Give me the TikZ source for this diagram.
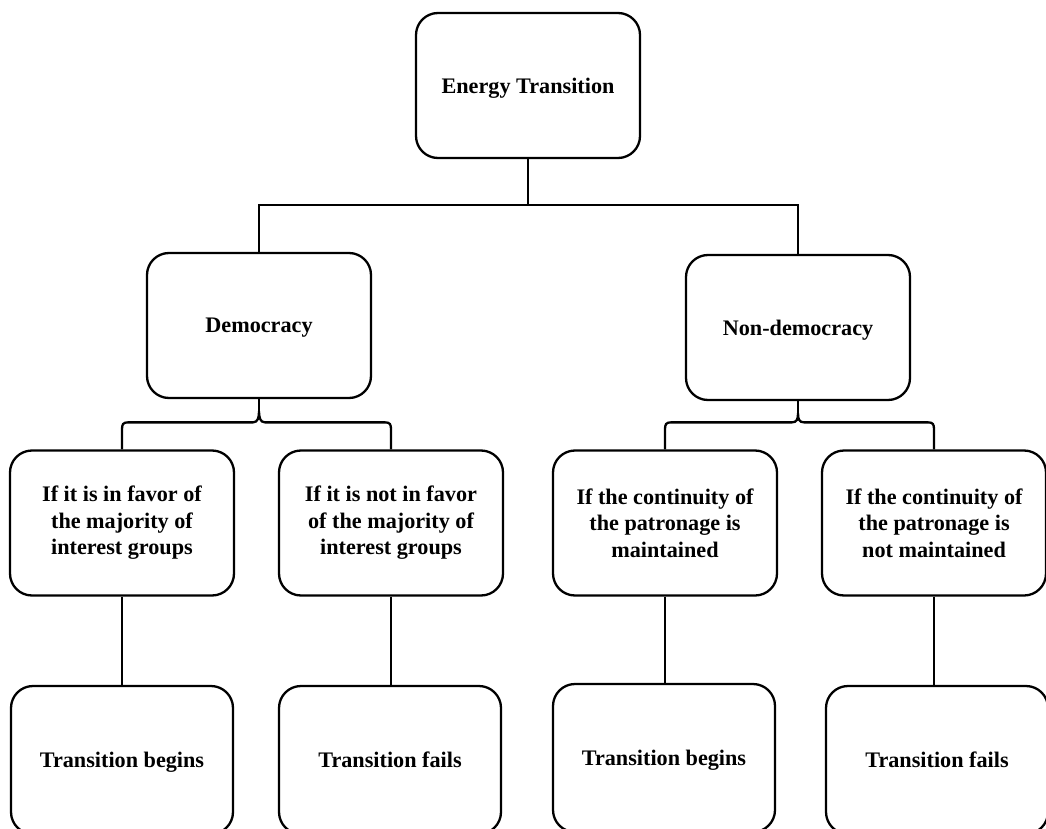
\documentclass[tikz,border=0pt]{standalone}
\usepackage{fontspec}
\setmainfont{Liberation Serif}
\usetikzlibrary{calc}
\tikzset{
  box/.style={draw, line width=2.3pt, rounded corners=22pt, minimum width=224pt,
    minimum height=145pt, inner sep=0pt, align=center,
    font=\fontsize{22.2}{26.5}\selectfont\bfseries},
  onebox/.style={box, text depth=0pt},
  endbox/.style={onebox, minimum width=222pt, minimum height=148pt},
  link/.style={line width=2.3pt}
}
\newcommand\bracelink[3]{%
  \draw[link] (#1.north) -- ++(0,-20) .. controls +(0,-5) and +(-5,0) .. ++(6,-7)
    -- ($(#2.south |- #1.north)+(-6,-27)$) .. controls +(5,0) and +(0,6) .. ($(#2.south)+(0,12)$)
    .. controls +(0,6) and +(-5,0) .. ($(#2.south |- #3.north)+(6,-27)$)
    -- ($(#3.north)+(-6,-27)$) .. controls +(5,0) and +(0,-5) .. ($(#3.north)+(0,-20)$) -- (#3.north);
  \draw[link] (#2.south) -- ($(#2.south)+(0,12)$);
}
\begin{document}
\begin{tikzpicture}[x=1pt,y=-1pt]
\useasboundingbox (0,0) rectangle (1046,829);
\clip (0,0) rectangle (1046,829);
\node[onebox] (top) at (528,85.5) {Energy Transition};
\node[onebox] (dem) at (259,325.5) {Democracy};
\node[onebox] (non) at (798,327.5) {Non-democracy};
\node[box] (c1) at (122,523) {If it is in favor of\\the majority of\\interest groups};
\node[box] (c2) at (391,523) {If it is not in favor\\of the majority of\\interest groups};
\node[box] (c3) at (665,523) {If the continuity of\\the patronage is\\maintained};
\node[box] (c4) at (934,523) {If the continuity of\\the patronage is\\not maintained};
\node[endbox] (b1) at (122,760) {Transition begins};
\node[endbox] (b2) at (390,760) {Transition fails};
\node[endbox] (b3) at (664,758) {Transition begins};
\node[endbox] (b4) at (937,760) {Transition fails};
\draw[link] (top.south) -- ++(0,46) coordinate (j);
\draw[link] (dem.north) |- (j) -| (non.north);
\bracelink{c1}{dem}{c2}
\bracelink{c3}{non}{c4}
\foreach \a/\b in {c1/b1,c2/b2,c3/b3,c4/b4}
  \draw[link] (\a.south) -- (\a.south |- \b.north);
\end{tikzpicture}
\end{document}
